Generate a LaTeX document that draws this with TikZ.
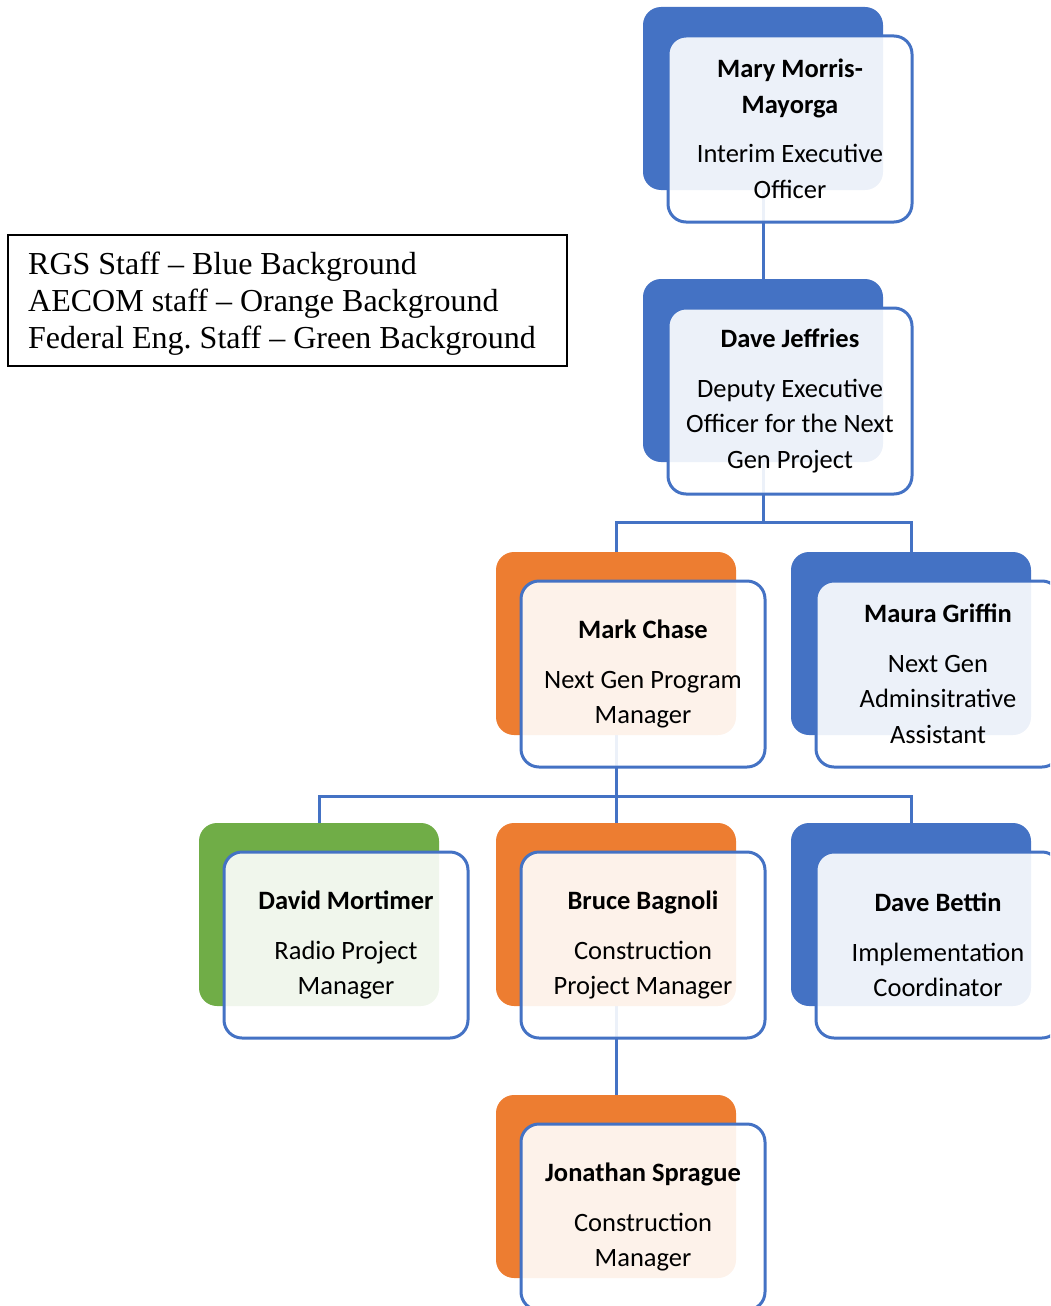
\documentclass[tikz,border=0pt]{standalone}
\usepackage{fontspec}
\setmainfont{Liberation Serif}
\newfontfamily\calfont{Carlito}
\definecolor{rgsblue}{HTML}{4472C4}
\definecolor{aecomorange}{HTML}{ED7D31}
\definecolor{fedgreen}{HTML}{70AD47}
\pgfdeclarelayer{bg}
\pgfsetlayers{bg,main}
\tikzset{
  backbox/.style={rectangle, rounded corners=18pt, draw=none, inner sep=0pt,
    minimum width=240pt, minimum height=183pt},
  frontbox/.style={rectangle, rounded corners=18pt, draw=rgsblue, line width=3pt,
    fill=white, fill opacity=0.9, text opacity=1, draw opacity=1, inner sep=0pt,
    minimum width=244pt, minimum height=186pt, align=center,
    font=\calfont\fontsize{26.5}{35.5}\selectfont},
  conn/.style={draw=rgsblue, line width=3pt},
  legendbox/.style={draw=black, line width=1.5pt, anchor=north west, inner sep=0pt,
    minimum width=559pt, minimum height=131pt},
  legendtext/.style={anchor=north west, inner sep=0pt, align=left,
    font=\frenchspacing\fontsize{32}{37}\selectfont}
}
\newcommand\orgunit[5]{%
  \node[backbox, fill=#2] (#1B) at (#3+120, #4+91.5) {};
  \node[frontbox] (#1F) at (#3+147, #4+122) {#5};}
\begin{document}
\begin{tikzpicture}[x=1pt,y=-1pt]
\clip (0,0) rectangle (1050,1306);

\orgunit{mary}{rgsblue}{643}{7}{\textbf{Mary Morris-}\\\textbf{Mayorga}\\[14pt]Interim Executive\\Officer}
\orgunit{dave}{rgsblue}{643}{279}{\textbf{Dave Jeffries}\\[14pt]Deputy Executive\\Officer for the Next\\Gen Project}
\orgunit{mark}{aecomorange}{496}{552}{\textbf{Mark Chase}\\[14pt]Next Gen Program\\Manager}
\orgunit{maura}{rgsblue}{791}{552}{\textbf{Maura Griffin}\\[14pt]Next Gen\\Adminsitrative\\Assistant}
\orgunit{mort}{fedgreen}{199}{823}{\textbf{David Mortimer}\\[14pt]Radio Project\\Manager}
\orgunit{bruce}{aecomorange}{496}{823}{\textbf{Bruce Bagnoli}\\[14pt]Construction\\Project Manager}
\orgunit{bettin}{rgsblue}{791}{823}{\textbf{Dave Bettin}\\[14pt]Implementation\\Coordinator}
\orgunit{jon}{aecomorange}{496}{1095}{\textbf{Jonathan Sprague}\\[14pt]Construction\\Manager}

\begin{pgfonlayer}{bg}
\draw[conn] (maryB.south) -- (daveB.north);
\draw[conn] (daveB.south) -- ++(0,60) coordinate (j1) -| (markB.north);
\draw[conn] (j1) -| (mauraB.north);
\draw[conn] (markB.south) -- ++(0,61) coordinate (j2) -| (mortB.north);
\draw[conn] (j2) -| (bruceB.north);
\draw[conn] (j2) -| (bettinB.north);
\draw[conn] (bruceB.south) -- (jonB.north);
\end{pgfonlayer}

\node[legendbox] (legend) at (7,234) {};
\node[legendtext] (legendtxt) at (28,249) {\rule{0pt}{25pt}RGS Staff -- Blue Background\\AECOM staff -- Orange Background\\Federal Eng. Staff -- Green Background};
\end{tikzpicture}
\end{document}
